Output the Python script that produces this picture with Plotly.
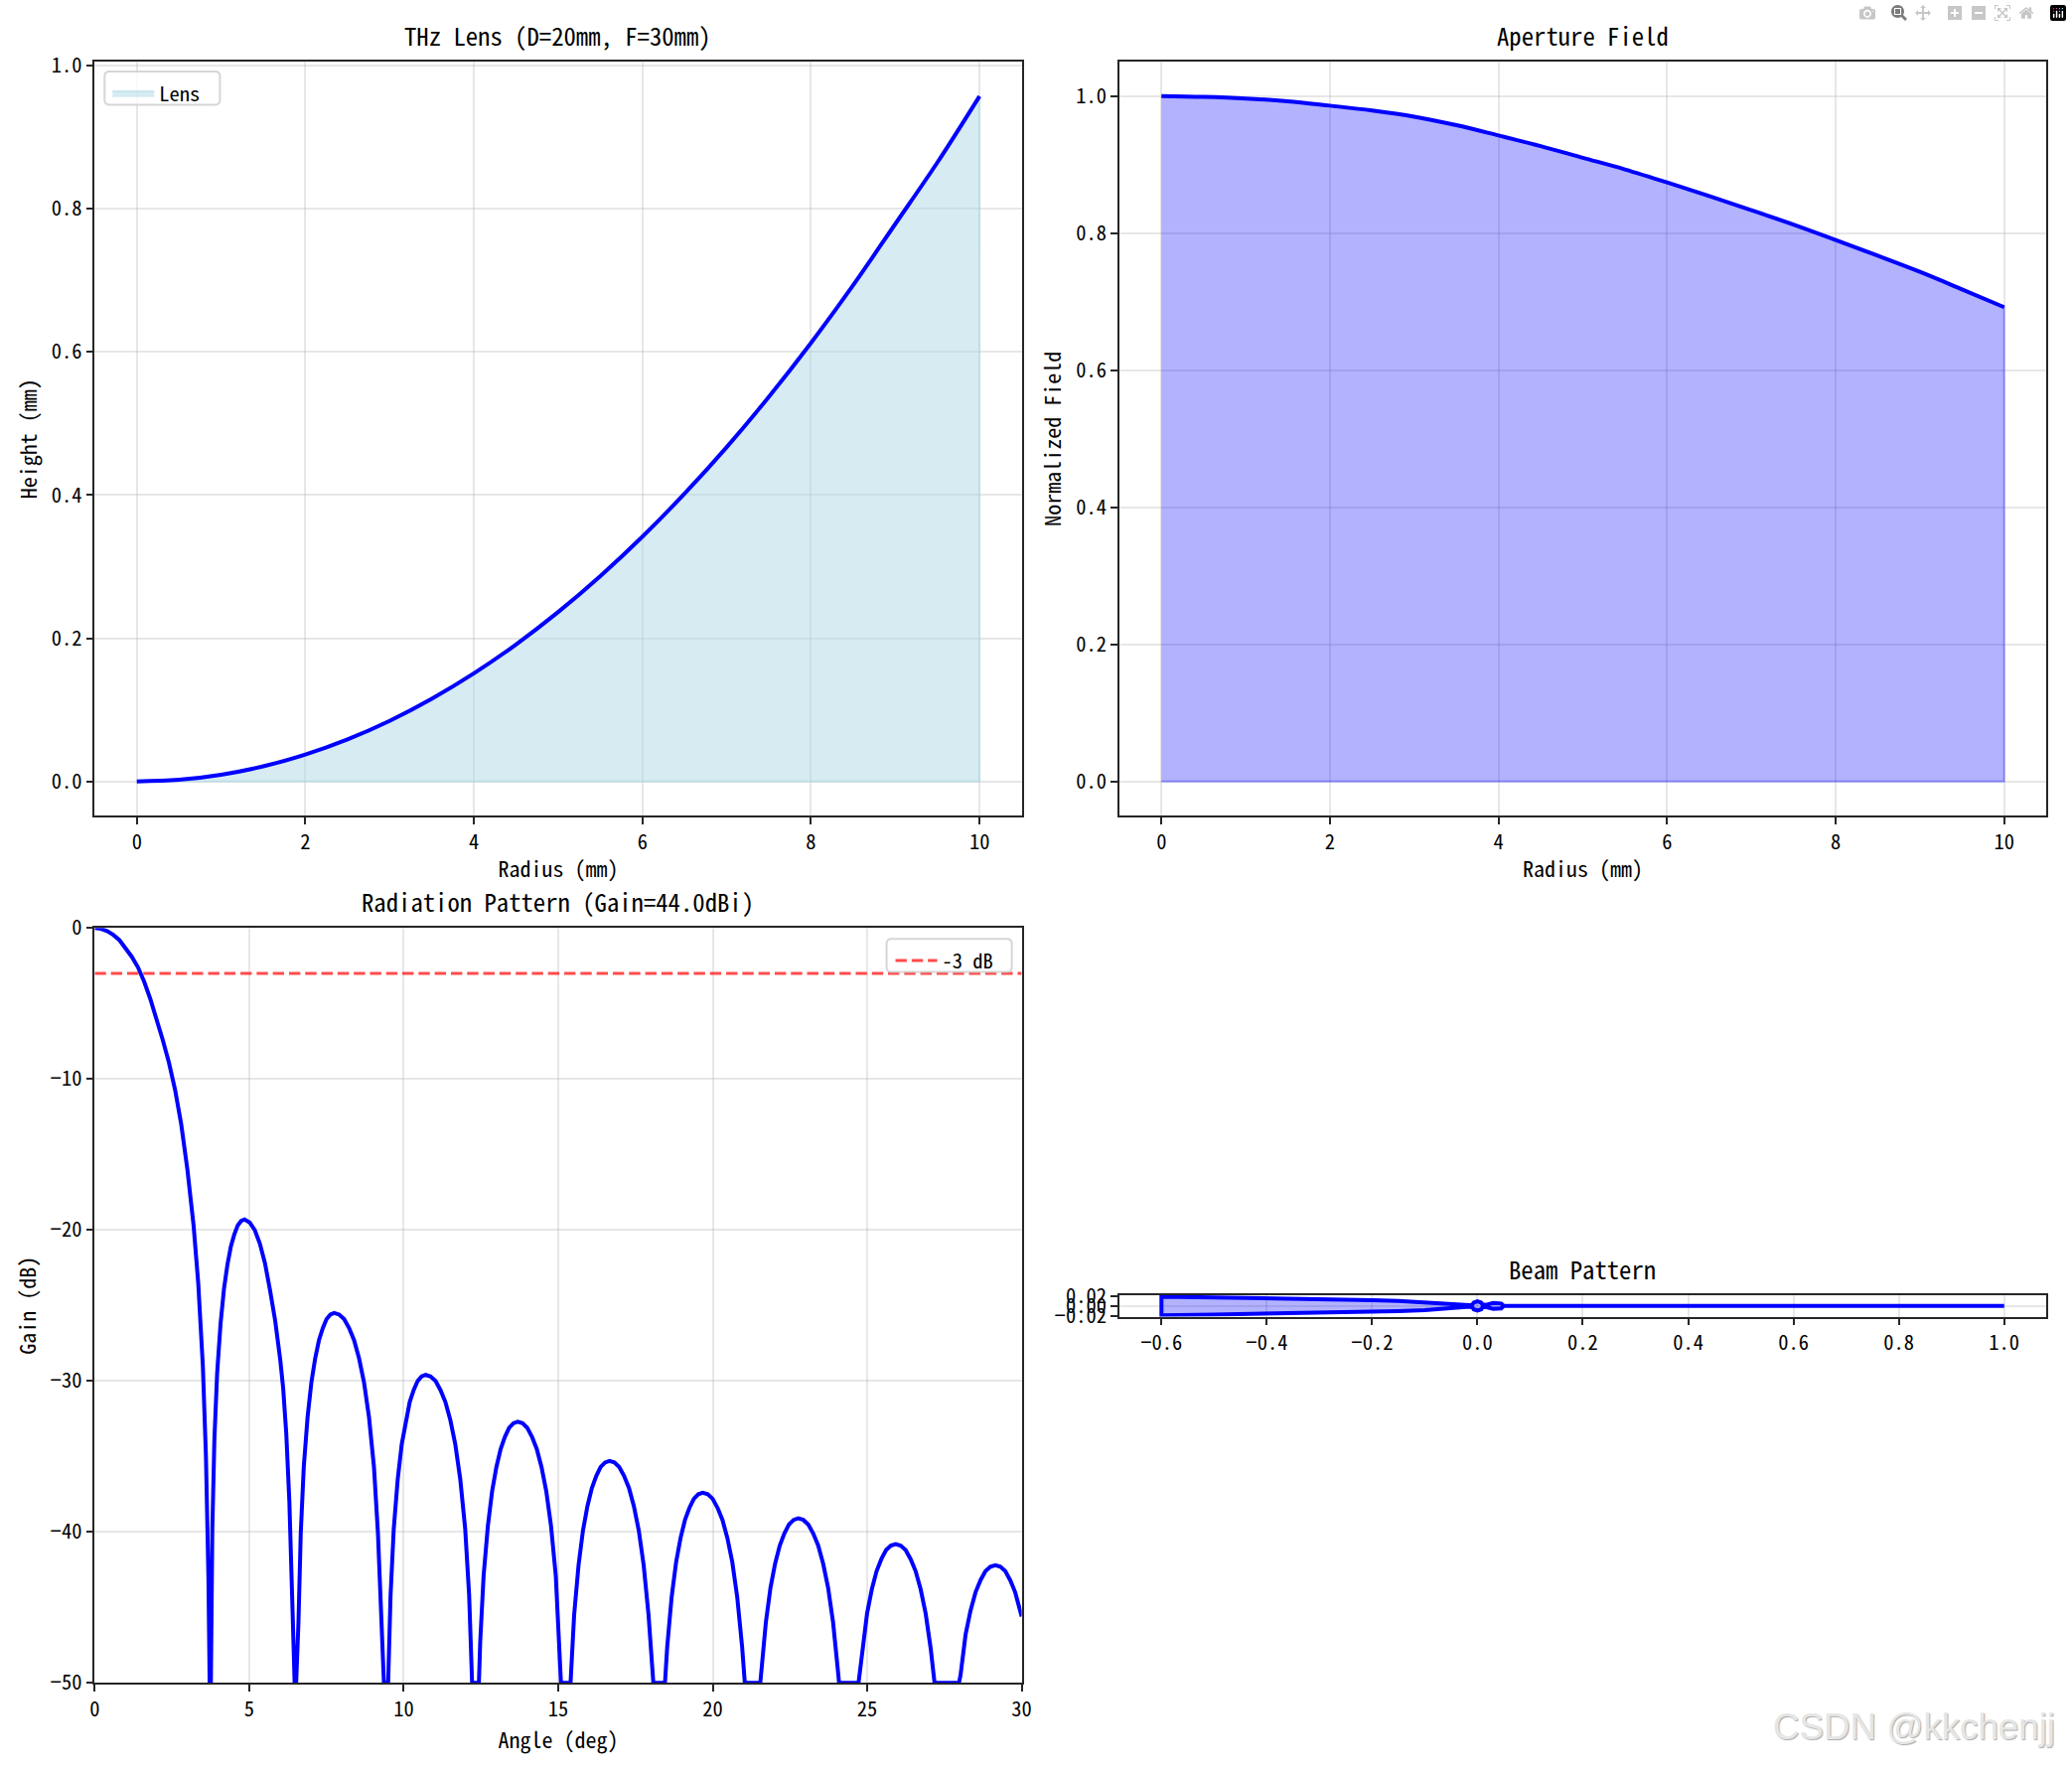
import plotly.graph_objects as go

W = 2086
H = 1784
FONT = "Noto Sans Mono CJK SC, Liberation Mono, monospace"

radius = [0, 0.5, 1, 1.5, 2, 2.5, 3, 3.5, 4, 4.5, 5, 5.5, 6, 6.5, 7, 7.5, 8, 8.5, 9, 9.5, 10]
lens_height = [0, 0.0023, 0.0094, 0.0211, 0.0375, 0.0587, 0.0846, 0.1154, 0.1509, 0.1913,
               0.2366, 0.2868, 0.3419, 0.402, 0.467, 0.5372, 0.6125, 0.693, 0.7785, 0.8645, 0.957]
aperture_field = [1.0, 0.9988, 0.9965, 0.9925, 0.986, 0.979, 0.97, 0.9575, 0.9425, 0.927, 0.91,
                  0.893, 0.874, 0.854, 0.8335, 0.8125, 0.79, 0.767, 0.7435, 0.718, 0.692]

angle = [0, 0.2, 0.4, 0.6, 0.8, 1.0, 1.2, 1.4, 1.6, 1.8, 2.0, 2.2, 2.4, 2.6, 2.8, 3.0, 3.2, 3.35, 3.5, 3.6, 3.68, 3.72,
         3.76, 3.807, 3.873, 3.962, 4.073, 4.184, 4.295, 4.406, 4.517, 4.628, 4.739, 4.85,
         5.015, 5.18, 5.345, 5.51, 5.675, 5.84, 6.005, 6.1, 6.2, 6.3, 6.4, 6.47, 6.52,
         6.594, 6.668, 6.766, 6.889, 7.012, 7.135, 7.258, 7.381, 7.504, 7.627, 7.75,
         7.911, 8.072, 8.233, 8.394, 8.555, 8.716, 8.877, 9.038, 9.167, 9.263, 9.36, 9.497,
         9.575, 9.678, 9.807, 9.936, 10.065, 10.194, 10.323, 10.452, 10.581, 10.71,
         10.87, 11.03, 11.19, 11.35, 11.51, 11.67, 11.83, 11.99, 12.118, 12.214, 12.434,
         12.476, 12.586, 12.724, 12.862, 13.0, 13.138, 13.276, 13.414, 13.552, 13.69,
         13.844, 13.998, 14.152, 14.306, 14.46, 14.614, 14.768, 14.922, 15.045, 15.09, 15.4,
         15.516, 15.659, 15.802, 15.945, 16.088, 16.231, 16.374, 16.517, 16.66,
         16.818, 16.976, 17.134, 17.292, 17.45, 17.608, 17.766, 17.924, 18.08, 18.456,
         18.528, 18.672, 18.816, 18.96, 19.104, 19.248, 19.392, 19.536, 19.68,
         19.839, 19.998, 20.157, 20.316, 20.475, 20.634, 20.793, 20.952, 21.04, 21.54,
         21.57, 21.72, 21.87, 22.02, 22.17, 22.32, 22.47, 22.62, 22.77,
         22.931, 23.092, 23.253, 23.414, 23.575, 23.736, 23.897, 24.058, 24.09, 24.72,
         24.842, 24.996, 25.15, 25.304, 25.458, 25.612, 25.766, 25.92,
         26.082, 26.244, 26.406, 26.568, 26.73, 26.892, 27.054, 27.18, 27.97,
         28.02, 28.184, 28.345, 28.506, 28.667, 28.828, 28.989, 29.15,
         29.31, 29.47, 29.63, 29.79, 29.95, 30]
gain = [0, -0.05, -0.2, -0.45, -0.8, -1.3, -1.9, -2.6, -3.55, -4.7, -6.0, -7.4, -8.9, -10.7, -13, -16, -19.7, -23.5, -29, -35, -43, -50,
        -50, -39.8, -33.9, -29.5, -26.2, -23.9, -22.3, -21.1, -20.3, -19.7, -19.4, -19.3,
        -19.5, -20, -20.9, -22.2, -24, -26, -28.6, -30.5, -33.5, -38, -45, -50, -50,
        -46, -40.1, -35.7, -32.4, -30.1, -28.5, -27.3, -26.5, -25.9, -25.6, -25.5,
        -25.6, -25.9, -26.5, -27.3, -28.5, -30.1, -32.4, -35.7, -40.1, -46, -50, -50,
        -44.2, -39.8, -36.5, -34.2, -32.6, -31.4, -30.6, -30, -29.7, -29.6,
        -29.7, -30, -30.6, -31.4, -32.6, -34.2, -36.5, -39.8, -44.2, -50, -50,
        -47.3, -42.9, -39.6, -37.3, -35.7, -34.5, -33.7, -33.1, -32.8, -32.7,
        -32.8, -33.1, -33.7, -34.5, -35.7, -37.3, -39.6, -42.9, -47.3, -50, -50,
        -45.5, -42.2, -39.9, -38.3, -37.1, -36.3, -35.7, -35.4, -35.3,
        -35.4, -35.7, -36.3, -37.1, -38.3, -39.9, -42.2, -45.5, -50, -50,
        -47.6, -44.3, -42, -40.4, -39.2, -38.4, -37.8, -37.5, -37.4,
        -37.5, -37.8, -38.4, -39.2, -40.4, -42, -44.3, -47.6, -50, -50,
        -49.3, -46, -43.7, -42.1, -40.9, -40.1, -39.5, -39.2, -39.1,
        -39.2, -39.5, -40.1, -40.9, -42.1, -43.7, -46, -49.3, -50, -50,
        -47.7, -45.4, -43.8, -42.6, -41.8, -41.2, -40.9, -40.8,
        -40.9, -41.2, -41.8, -42.6, -43.8, -45.4, -47.7, -50, -50,
        -49.5, -46.8, -45.2, -44, -43.2, -42.6, -42.3, -42.2,
        -42.3, -42.6, -43.2, -44, -45.2, -45.6]
half_power_x = [0, 30]
half_power_y = [-3, -3]

beam_x = [1.0, 0.05, 0.045, 0.03, 0.015, 0.0095, 0.007, 0, -0.007, -0.0095, -0.015, -0.03, -0.05, -0.07, -0.1,
          -0.15, -0.2, -0.3, -0.4, -0.5, -0.6, -0.6, -0.5, -0.4, -0.3, -0.2, -0.15, -0.1, -0.07, -0.05, -0.03,
          -0.015, -0.0095, -0.007, 0, 0.007, 0.0095, 0.015, 0.03, 0.045, 0.05, 1.0]
beam_y = [0, 0, 0.005, 0.006, 0.002, 0.003, 0.007, 0.0095, 0.007, 0.003, 0.0015, 0.0025, 0.0045, 0.006, 0.0085,
          0.0105, 0.012, 0.0145, 0.016, 0.0175, 0.019, -0.019, -0.0175, -0.016, -0.0145, -0.012, -0.0105, -0.0085,
          -0.006, -0.0045, -0.0025, -0.0015, -0.003, -0.007, -0.0095, -0.007, -0.003, -0.002, -0.006, -0.005, 0, 0]

BLUE = "rgb(0,0,255)"
GRID = "rgba(176,176,176,0.3)"
SPINE = "#262626"


def axis(left_or_top, right_or_bottom, total, flip=False, **kw):
    a, b = left_or_top / total, right_or_bottom / total
    dom = [1 - b, 1 - a] if flip else [a, b]
    return dict(domain=dom, showline=True, mirror=True, linecolor=SPINE, linewidth=1.65, ticks="outside",
                ticklen=7, tickwidth=1.65, tickcolor=SPINE, showgrid=True, gridcolor=GRID, gridwidth=1.65,
                zeroline=False, tickfont=dict(family=FONT, size=20.5, color="black"), **kw)


def rounded_box(x0, y0, x1, y1, r=5):
    # legend frame in page pixels
    xs = lambda v: v / W
    ys = lambda v: 1 - v / H
    path = (f"M {xs(x0 + r)} {ys(y0)} L {xs(x1 - r)} {ys(y0)} Q {xs(x1)} {ys(y0)} {xs(x1)} {ys(y0 + r)} "
            f"L {xs(x1)} {ys(y1 - r)} Q {xs(x1)} {ys(y1)} {xs(x1 - r)} {ys(y1)} L {xs(x0 + r)} {ys(y1)} "
            f"Q {xs(x0)} {ys(y1)} {xs(x0)} {ys(y1 - r)} L {xs(x0)} {ys(y0 + r)} Q {xs(x0)} {ys(y0)} {xs(x0 + r)} {ys(y0)} Z")
    return dict(type="path", path=path, xref="paper", yref="paper", layer="above",
                line=dict(color="rgba(204,204,204,0.8)", width=2), fillcolor="rgba(255,255,255,0.8)")


fig = go.Figure()

# lens profile
fig.add_trace(go.Scatter(x=radius + [radius[-1], radius[0]], y=lens_height + [0, 0], mode="lines", fill="toself",
                         fillcolor="rgba(173,216,230,0.5)", line=dict(color="rgba(173,216,230,0.5)", width=2),
                         name="Lens", xaxis="x", yaxis="y", legend="legend"))
fig.add_trace(go.Scatter(x=radius, y=lens_height, mode="lines", line=dict(color=BLUE, width=4, shape="spline"),
                         showlegend=False, xaxis="x", yaxis="y"))

# aperture field
fig.add_trace(go.Scatter(x=radius + [radius[-1], radius[0]], y=aperture_field + [0, 0], mode="lines", fill="toself",
                         fillcolor="rgba(0,0,255,0.3)", line=dict(color="rgba(0,0,255,0.3)", width=2),
                         showlegend=False, xaxis="x2", yaxis="y2"))
fig.add_trace(go.Scatter(x=radius, y=aperture_field, mode="lines", line=dict(color=BLUE, width=4, shape="spline"),
                         showlegend=False, xaxis="x2", yaxis="y2"))

# radiation pattern
fig.add_trace(go.Scatter(x=angle, y=gain, mode="lines", line=dict(color=BLUE, width=4),
                         showlegend=False, xaxis="x3", yaxis="y3"))
fig.add_trace(go.Scatter(x=half_power_x, y=half_power_y, mode="lines", name="-3 dB",
                         line=dict(color="rgba(255,0,0,0.7)", width=3, dash="11.4px,4.9px"),
                         xaxis="x3", yaxis="y3", legend="legend2"))

# beam pattern
fig.add_trace(go.Scatter(x=beam_x, y=beam_y, mode="lines", fill="toself", fillcolor="rgba(0,0,255,0.3)",
                         line=dict(color=BLUE, width=4), showlegend=False, xaxis="x4", yaxis="y4"))


def ax_title(text, standoff):
    return dict(text=text, font=dict(family=FONT, size=22, color="black"), standoff=standoff)


def panel_title(text, xaxis, yaxis, top_px):
    return dict(text=text, xref=f"{xaxis} domain", yref=f"{yaxis} domain", x=0.5, y=1, xanchor="center", yanchor="bottom",
                yshift=7, showarrow=False, font=dict(family=FONT, size=24.7, color="black"))


r_ticks = [0, 2, 4, 6, 8, 10]
unit_ticks = [0, 0.2, 0.4, 0.6, 0.8, 1.0]

fig.update_layout(
    width=W, height=H, autosize=False, margin=dict(l=0, r=0, t=0, b=0), paper_bgcolor="white", plot_bgcolor="white",
    font=dict(family=FONT, color="black"),
    xaxis=dict(axis(91, 1031, W), anchor="y", range=[-0.5, 10.5], tickvals=r_ticks, title=ax_title("Radius (mm)", 8)),
    yaxis=dict(axis(46, 818, H, flip=True), anchor="x", range=[-0.0479, 1.005], tickvals=unit_ticks, tickformat=".1f",
               title=ax_title("Height (mm)", 8)),
    xaxis2=dict(axis(1130, 2070, W), anchor="y2", range=[-0.5, 10.5], tickvals=r_ticks, title=ax_title("Radius (mm)", 8)),
    yaxis2=dict(axis(46, 818, H, flip=True), anchor="x2", range=[-0.05, 1.05], tickvals=unit_ticks, tickformat=".1f",
                title=ax_title("Normalized Field", 8)),
    xaxis3=dict(axis(91, 1031, W), anchor="y3", range=[0, 30], tickvals=[0, 5, 10, 15, 20, 25, 30],
                title=ax_title("Angle (deg)", 8)),
    yaxis3=dict(axis(933, 1706, H, flip=True), anchor="x3", range=[-50, 0], tickvals=[-50, -40, -30, -20, -10, 0],
                title=ax_title("Gain (dB)", 8)),
    xaxis4=dict(axis(1130, 2070, W), anchor="y4", range=[-0.68, 1.08], tickvals=[-0.6, -0.4, -0.2, 0, 0.2, 0.4, 0.6, 0.8, 1.0],
                tickformat=".1f"),
    yaxis4=dict(axis(1309, 1331, H, flip=True), anchor="x4", range=[-0.022, 0.022], tickvals=[-0.02, 0, 0.02], tickformat=".2f"),
    legend=dict(x=104 / W, y=1 - 58 / H, xanchor="left", yanchor="top", bgcolor="rgba(0,0,0,0)", itemwidth=42,
                font=dict(family=FONT, size=20.5, color="black")),
    legend2=dict(x=898 / W, y=1 - 946 / H, xanchor="left", yanchor="top", bgcolor="rgba(0,0,0,0)", itemwidth=42,
                 font=dict(family=FONT, size=20.5, color="black")),
    shapes=[rounded_box(101, 56, 218, 90), rounded_box(894, 944, 1021, 978)],
    annotations=[
        panel_title("THz Lens (D=20mm, F=30mm)", "x", "y", 46),
        panel_title("Aperture Field", "x2", "y2", 46),
        panel_title("Radiation Pattern (Gain=44.0dBi)", "x3", "y3", 933),
        panel_title("Beam Pattern", "x4", "y4", 1309),
        dict(text="CSDN @kkchenjj", xref="paper", yref="paper", x=2081 / W, y=1 - 1751 / H, xanchor="right", yanchor="middle",
             showarrow=False, font=dict(family="Liberation Sans", size=36.7, color="#e6e6e6", shadow="1px 1px 1px #aaaaaa")),
    ],
)

fig.write_html("out.html", post_script="document.body.style.margin='0'")
